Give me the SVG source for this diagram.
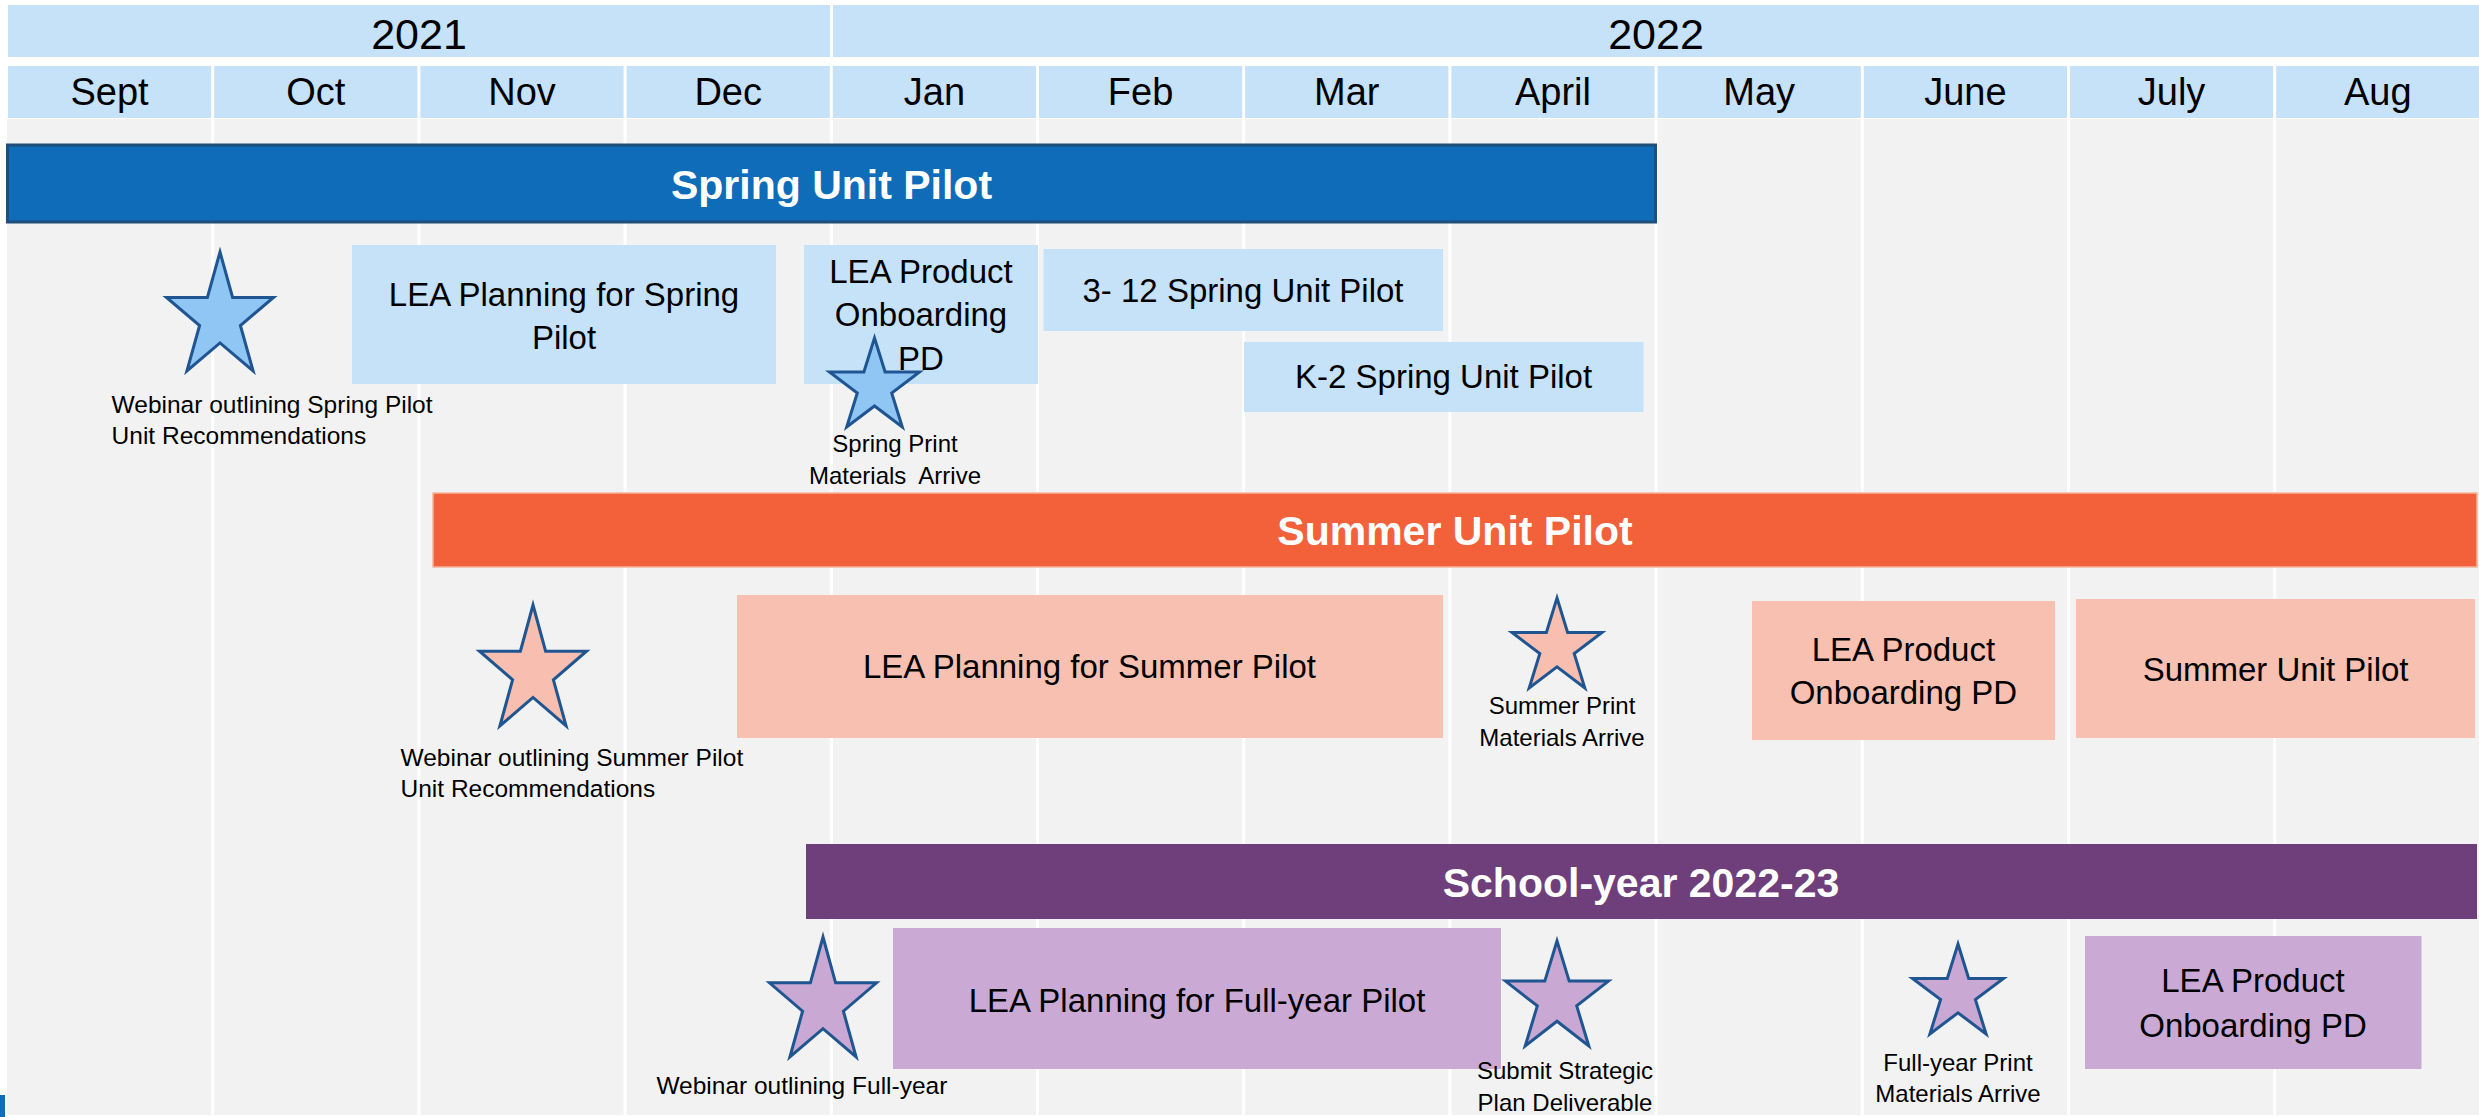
<svg xmlns="http://www.w3.org/2000/svg" width="2479" height="1117" viewBox="0 0 2479 1117">
<style>
text { font-family: "Liberation Sans", Arial, sans-serif; fill: #000; }
.yr { font-size: 43px; text-anchor: middle; }
.mo { font-size: 38px; text-anchor: middle; }
.bt { font-size: 41px; font-weight: bold; fill: #fff; text-anchor: middle; }
.bx { font-size: 33px; text-anchor: middle; }
.lb { font-size: 24.5px; }
.lbc { font-size: 24px; text-anchor: middle; }
.hdr { fill: #C6E2F8; }
.grid { stroke: #fff; stroke-width: 3; }
.sp { fill: #C6E2F8; }
.su { fill: #F8C0B0; }
.fy { fill: #CAAAD4; }
.star { stroke: #1F5591; stroke-width: 3; stroke-linejoin: miter; }
.s-sp { fill: #90C6F4; }
.s-su { fill: #F8BFB0; }
.s-fy { fill: #C9A9D3; }
</style>

<rect x="0" y="0" width="2479" height="1117" fill="#fff"/>
<rect x="7" y="119" width="2472" height="996" fill="#F2F2F2"/>

<g id="grid">
<line class="grid" x1="212.7" y1="119" x2="212.7" y2="1117"/>
<line class="grid" x1="418.9" y1="119" x2="418.9" y2="1117"/>
<line class="grid" x1="625.1" y1="119" x2="625.1" y2="1117"/>
<line class="grid" x1="831.3" y1="119" x2="831.3" y2="1117"/>
<line class="grid" x1="1037.5" y1="119" x2="1037.5" y2="1117"/>
<line class="grid" x1="1243.7" y1="119" x2="1243.7" y2="1117"/>
<line class="grid" x1="1449.9" y1="119" x2="1449.9" y2="1117"/>
<line class="grid" x1="1656.1" y1="119" x2="1656.1" y2="1117"/>
<line class="grid" x1="1862.3" y1="119" x2="1862.3" y2="1117"/>
<line class="grid" x1="2068.5" y1="119" x2="2068.5" y2="1117"/>
<line class="grid" x1="2274.7" y1="119" x2="2274.7" y2="1117"/>
</g>

<g id="header-years">
<g id="year-2021"><rect class="hdr" x="8" y="5" width="822" height="52"/><text class="yr" x="419" y="49">2021</text></g>
<g id="year-2022"><rect class="hdr" x="833" y="5" width="1646" height="52"/><text class="yr" x="1656" y="49">2022</text></g>
</g>

<g id="header-months">
<g id="m-sept"><rect class="hdr" x="8" y="66" width="203.2" height="52"/><text class="mo" x="109.6" y="105">Sept</text></g>
<g id="m-oct"><rect class="hdr" x="214.2" y="66" width="203.2" height="52"/><text class="mo" x="315.8" y="105">Oct</text></g>
<g id="m-nov"><rect class="hdr" x="420.4" y="66" width="203.2" height="52"/><text class="mo" x="522" y="105">Nov</text></g>
<g id="m-dec"><rect class="hdr" x="626.6" y="66" width="203.2" height="52"/><text class="mo" x="728.2" y="105">Dec</text></g>
<g id="m-jan"><rect class="hdr" x="832.8" y="66" width="203.2" height="52"/><text class="mo" x="934.4" y="105">Jan</text></g>
<g id="m-feb"><rect class="hdr" x="1039" y="66" width="203.2" height="52"/><text class="mo" x="1140.6" y="105">Feb</text></g>
<g id="m-mar"><rect class="hdr" x="1245.2" y="66" width="203.2" height="52"/><text class="mo" x="1346.8" y="105">Mar</text></g>
<g id="m-apr"><rect class="hdr" x="1451.4" y="66" width="203.2" height="52"/><text class="mo" x="1553" y="105">April</text></g>
<g id="m-may"><rect class="hdr" x="1657.6" y="66" width="203.2" height="52"/><text class="mo" x="1759.2" y="105">May</text></g>
<g id="m-jun"><rect class="hdr" x="1863.8" y="66" width="203.2" height="52"/><text class="mo" x="1965.4" y="105">June</text></g>
<g id="m-jul"><rect class="hdr" x="2070" y="66" width="203.2" height="52"/><text class="mo" x="2171.6" y="105">July</text></g>
<g id="m-aug"><rect class="hdr" x="2276.2" y="66" width="202.8" height="52"/><text class="mo" x="2377.8" y="105">Aug</text></g>
</g>

<g id="connectors"></g>

<!-- Spring -->
<g id="bar-spring">
<rect x="7.5" y="145" width="1648" height="77" fill="#0E6CB9" stroke="#1F4E79" stroke-width="3"/>
<text class="bt" x="831.5" y="198.5">Spring Unit Pilot</text>
</g>
<g id="box-lea-planning-spring">
<rect class="sp" x="352" y="245" width="424" height="139"/>
<text class="bx" x="564" y="306">LEA Planning for Spring</text>
<text class="bx" x="564" y="349">Pilot</text>
</g>
<g id="box-lea-onboarding-spring">
<rect class="sp" x="804" y="245" width="234" height="139"/>
<text class="bx" x="921" y="282.7">LEA Product</text>
<text class="bx" x="921" y="326">Onboarding</text>
<text class="bx" x="921" y="370">PD</text>
</g>
<g id="box-3-12-spring">
<rect class="sp" x="1043.5" y="249" width="399.5" height="82"/>
<text class="bx" x="1243" y="301.7">3- 12 Spring Unit Pilot</text>
</g>
<g id="box-k2-spring">
<rect class="sp" x="1244" y="342" width="399.5" height="70"/>
<text class="bx" x="1443.6" y="388.3">K-2 Spring Unit Pilot</text>
</g>
<g id="ms-webinar-spring">
<polygon class="star s-sp" points="220,252 232.6,297.5 273.5,297.5 240.4,325.5 253.1,371 220,342.9 186.9,371 199.6,325.5 166.5,297.5 207.4,297.5"/>
<text class="lb" x="111.6" y="412.7">Webinar outlining Spring Pilot</text>
<text class="lb" x="111.6" y="444">Unit Recommendations</text>
</g>
<g id="ms-print-spring">
<polygon class="star s-sp" points="874.5,338 885.1,372 919.5,372 891.7,393 902.3,427 874.5,406 846.7,427 857.3,393 829.5,372 863.9,372"/>
<text class="lbc" x="895" y="451.7">Spring Print</text>
<text class="lbc" x="895" y="484" xml:space="preserve">Materials  Arrive</text>
</g>

<!-- Summer -->
<g id="bar-summer">
<rect x="433" y="493" width="2044" height="74" fill="#F2613A" stroke="#F6B49C" stroke-width="1.5"/>
<text class="bt" x="1455" y="545">Summer Unit Pilot</text>
</g>
<g id="box-lea-planning-summer">
<rect class="su" x="737" y="595" width="706" height="143"/>
<text class="bx" x="1089.5" y="678.3">LEA Planning for Summer Pilot</text>
</g>
<g id="box-lea-onboarding-summer">
<rect class="su" x="1752" y="601" width="303" height="139"/>
<text class="bx" x="1903.4" y="660.7">LEA Product</text>
<text class="bx" x="1903.4" y="704.3">Onboarding PD</text>
</g>
<g id="box-summer-pilot">
<rect class="su" x="2076" y="599" width="399" height="139"/>
<text class="bx" x="2275.6" y="680.7">Summer Unit Pilot</text>
</g>
<g id="ms-webinar-summer">
<polygon class="star s-su" points="533,605 545.6,651.2 586.5,651.2 553.4,679.8 566.1,726 533,697.4 499.9,726 512.6,679.8 479.5,651.2 520.4,651.2"/>
<text class="lb" x="400.5" y="765.7">Webinar outlining Summer Pilot</text>
<text class="lb" x="400.5" y="797.3">Unit Recommendations</text>
</g>
<g id="ms-print-summer">
<polygon class="star s-su" points="1557,598 1567.6,632.4 1602,632.4 1574.2,653.6 1584.8,688 1557,666.8 1529.2,688 1539.8,653.6 1512,632.4 1546.4,632.4"/>
<text class="lbc" x="1562" y="714.3">Summer Print</text>
<text class="lbc" x="1562" y="746">Materials Arrive</text>
</g>

<!-- School year -->
<g id="bar-school-year">
<rect x="806" y="844" width="1671" height="75" fill="#6F3F7C"/>
<text class="bt" x="1641" y="896.5">School-year 2022-23</text>
</g>
<g id="box-lea-planning-fullyear">
<rect class="fy" x="893" y="928" width="608" height="141"/>
<text class="bx" x="1197" y="1011.7">LEA Planning for Full-year Pilot</text>
</g>
<g id="box-lea-onboarding-fullyear">
<rect class="fy" x="2085" y="936" width="336.5" height="133"/>
<text class="bx" x="2253" y="992">LEA Product</text>
<text class="bx" x="2253" y="1036.7">Onboarding PD</text>
</g>
<g id="ms-webinar-fullyear">
<polygon class="star s-fy" points="823,937 835.6,982.8 876.5,982.8 843.4,1011.2 856.1,1057 823,1028.7 789.9,1057 802.6,1011.2 769.5,982.8 810.4,982.8"/>
<text class="lb" x="656.4" y="1094.3">Webinar outlining Full-year</text>
</g>
<g id="ms-strategic-plan">
<polygon class="star s-fy" points="1557,941 1569.2,981.1 1608.5,981.1 1576.7,1005.9 1588.8,1046 1557,1021.2 1525.2,1046 1537.3,1005.9 1505.5,981.1 1544.8,981.1"/>
<text class="lbc" x="1565" y="1079.3">Submit Strategic</text>
<text class="lbc" x="1565" y="1111">Plan Deliverable</text>
</g>
<g id="ms-print-fullyear">
<polygon class="star s-fy" points="1958,944 1968.7,978.4 2003.5,978.4 1975.4,999.6 1986.1,1034 1958,1012.8 1929.9,1034 1940.6,999.6 1912.5,978.4 1947.3,978.4"/>
<text class="lbc" x="1958" y="1070.7">Full-year Print</text>
<text class="lbc" x="1958" y="1102">Materials Arrive</text>
</g>

<rect x="0" y="1095" width="5" height="22" fill="#0E6CB9"/>
</svg>
